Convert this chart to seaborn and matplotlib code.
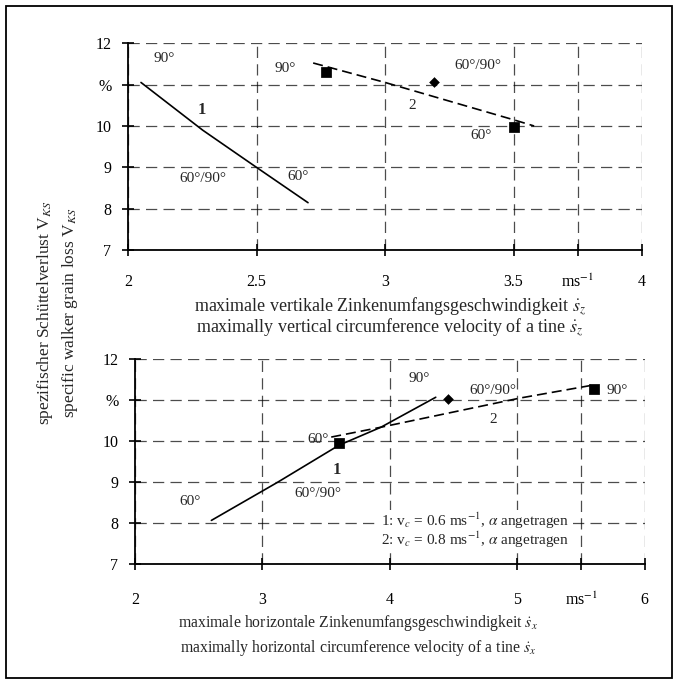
import matplotlib
matplotlib.use("Agg")
import matplotlib.pyplot as plt
from matplotlib.patches import Rectangle
import seaborn as sns
import pandas as pd

# ── Daten ───────────────────────────────────────────────────────────────────
# oben: vertikale Zinkenumfangsgeschwindigkeit
top_x1 = [2.05, 2.29, 2.50, 2.70]
top_y1 = [11.05, 9.90, 9.00, 8.15]
top_x2 = [2.72, 3.00, 3.25, 3.50, 3.58]
top_y2 = [11.52, 11.05, 10.60, 10.15, 10.00]
top_sq_x = [2.77, 3.50]
top_sq_y = [11.30, 9.97]
top_dia_x = [3.19]
top_dia_y = [11.05]

# unten: horizontale Zinkenumfangsgeschwindigkeit
bot_x1 = [2.60, 3.12, 3.60, 3.93, 4.36]
bot_y1 = [8.07, 9.00, 9.90, 10.34, 11.07]
bot_x2 = [3.54, 3.93, 5.02, 5.60]
bot_y2 = [10.10, 10.34, 11.05, 11.37]
bot_sq_x = [3.60, 5.60]
bot_sq_y = [9.95, 11.28]
bot_dia_x = [4.46]
bot_dia_y = [11.02]

yticks = [7, 8, 9, 10, 11, 12]
ytick_labels = ["7", "8", "9", "10", "%", "12"]
top_xticks = [2, 2.5, 3, 3.5, 3.75, 4]
top_xtick_labels = ["2", "2.5", "3", "3.5", r"ms$^{-1}$", "4"]
bot_xticks = [2, 3, 4, 5, 5.5, 6]
bot_xtick_labels = ["2", "3", "4", "5", r"ms$^{-1}$", "6"]

sns.set_theme(style="ticks")
plt.rcParams["font.family"] = ["Liberation Serif", "DejaVu Serif"]
plt.rcParams["mathtext.fontset"] = "stix"
FS = 11

fig = plt.figure(figsize=(6.78, 6.84), dpi=100)
ax_top = fig.add_axes([0.189, 0.634, 0.758, 0.303])
ax_bot = fig.add_axes([0.199, 0.175, 0.752, 0.300])


def style_axis(ax, xticks, xlabels, xlim, xpad):
    ax.set_xlim(*xlim)
    ax.set_ylim(7, 12)
    ax.set_xticks(xticks)
    ax.set_xticklabels(xlabels, fontsize=FS + 0.5)
    ax.set_yticks(yticks)
    ax.set_yticklabels(ytick_labels, fontsize=FS + 0.5)
    ax.tick_params(direction="inout", length=8, width=1.2, colors="black", pad=8)
    ax.tick_params(axis="x", pad=xpad)
    for s in ["top", "right"]:
        ax.spines[s].set_visible(False)
    for s in ["left", "bottom"]:
        ax.spines[s].set_color("black")
        ax.spines[s].set_linewidth(1.3)
    ax.grid(True, color="black", linewidth=0.9, linestyle=(0, (9, 5)), alpha=0.7)
    ax.set_xlabel("")
    ax.set_ylabel("")
    ax.set_facecolor("white")


def draw_panel(ax, x1, y1, x2, y2, sqx, sqy, dx, dy):
    sns.lineplot(data=pd.DataFrame({"x": x1, "y": y1}), x="x", y="y", ax=ax,
                 color="black", linewidth=1.2, sort=False)
    sns.lineplot(data=pd.DataFrame({"x": x2, "y": y2}), x="x", y="y", ax=ax,
                 color="black", linewidth=1.2, linestyle=(0, (6, 3)), sort=False)
    sns.scatterplot(x=sqx, y=sqy, ax=ax, marker="s", s=45, color="black",
                    edgecolor="black", zorder=5)
    sns.scatterplot(x=dx, y=dy, ax=ax, marker="D", s=25, color="black",
                    edgecolor="black", zorder=5)


# ── oberes Diagramm ──
draw_panel(ax_top, top_x1, top_y1, top_x2, top_y2,
           top_sq_x, top_sq_y, top_dia_x, top_dia_y)
style_axis(ax_top, top_xticks, top_xtick_labels, (2, 4), 13)
ax_top.text(2.10, 11.55, "90°", fontsize=FS)
ax_top.text(2.27, 10.30, "1", fontsize=FS + 1, fontweight="bold")
ax_top.text(2.20, 8.65, "60°/90°", fontsize=FS)
ax_top.text(2.62, 8.70, "60°", fontsize=FS)
ax_top.text(2.57, 11.30, "90°", fontsize=FS)
ax_top.text(3.09, 10.40, "2", fontsize=FS)
ax_top.text(3.27, 11.38, "60°/90°", fontsize=FS)
ax_top.text(3.33, 9.68, "60°", fontsize=FS)

# ── unteres Diagramm ──
draw_panel(ax_bot, bot_x1, bot_y1, bot_x2, bot_y2,
           bot_sq_x, bot_sq_y, bot_dia_x, bot_dia_y)
style_axis(ax_bot, bot_xticks, bot_xtick_labels, (2, 6), 16)
ax_bot.text(2.35, 8.45, "60°", fontsize=FS)
ax_bot.text(3.35, 9.95, "60°", fontsize=FS)
ax_bot.text(3.55, 9.20, "1", fontsize=FS + 1, fontweight="bold")
ax_bot.text(3.25, 8.65, "60°/90°", fontsize=FS)
ax_bot.text(4.15, 11.45, "90°", fontsize=FS)
ax_bot.text(4.62, 11.15, "60°/90°", fontsize=FS)
ax_bot.text(4.78, 10.45, "2", fontsize=FS)
ax_bot.text(5.70, 11.15, "90°", fontsize=FS)
legend_box = dict(facecolor="white", edgecolor="none", pad=0.5)
ax_bot.text(3.93, 8.05, r"1: v$_c$ = 0.6 ms$^{-1}$, $\alpha$ angetragen",
            fontsize=FS, va="center", bbox=legend_box)
ax_bot.text(3.93, 7.60, r"2: v$_c$ = 0.8 ms$^{-1}$, $\alpha$ angetragen",
            fontsize=FS, va="center", bbox=legend_box)

# ── Achsenbeschriftungen ──
fig.text(0.575, 0.551, r"maximale vertikale Zinkenumfangsgeschwindigkeit $\dot{s}_z$",
         ha="center", va="center", fontsize=13)
fig.text(0.575, 0.520, r"maximally vertical circumference velocity of a tine $\dot{s}_z$",
         ha="center", va="center", fontsize=13)
fig.text(0.528, 0.089, r"maximale horizontale Zinkenumfangsgeschwindigkeit $\dot{s}_x$",
         ha="center", va="center", fontsize=FS + 0.3)
fig.text(0.528, 0.053, r"maximally horizontal circumference velocity of a tine $\dot{s}_x$",
         ha="center", va="center", fontsize=FS + 0.3)
fig.text(0.066, 0.543, r"spezifischer Schüttelverlust V$_{KS}$",
         rotation=90, ha="center", va="center", fontsize=12.5)
fig.text(0.103, 0.543, r"specific walker grain loss V$_{KS}$",
         rotation=90, ha="center", va="center", fontsize=12.5)

# Rahmen um die ganze Abbildung
fig.patches.append(Rectangle((0.009, 0.009), 0.982, 0.982, transform=fig.transFigure,
                             fill=False, edgecolor="black", linewidth=1.3))

fig.savefig("out.png", dpi=100, facecolor="white")
